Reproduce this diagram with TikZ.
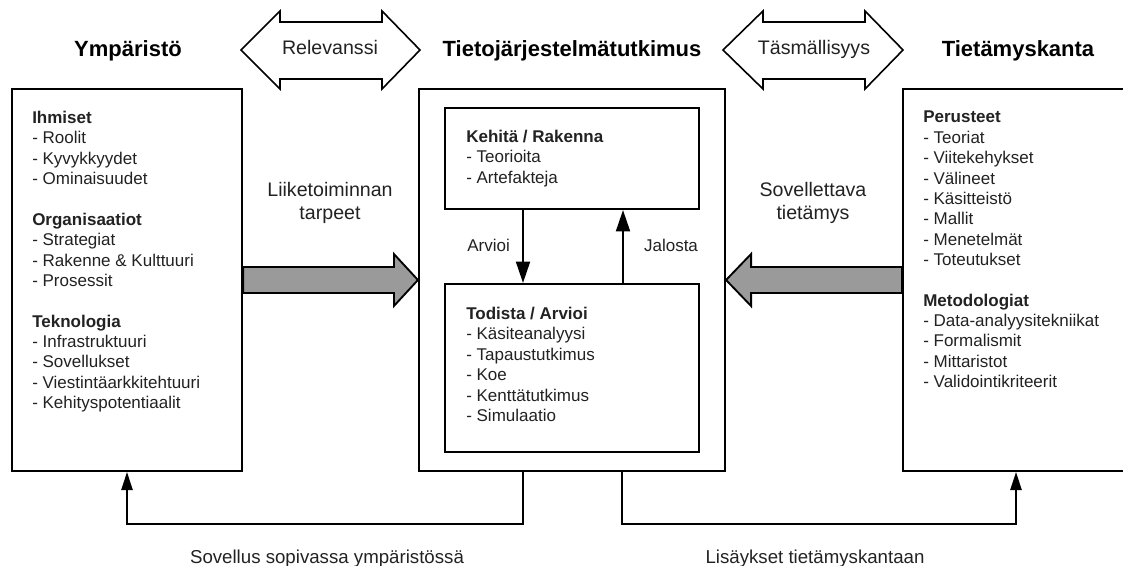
\documentclass[tikz,border=0pt]{standalone}
\usepackage{fontspec}
\setmainfont{Liberation Sans}
\usetikzlibrary{arrows.meta,calc}
\definecolor{txtcol}{HTML}{222222}
\definecolor{blockgray}{HTML}{9A9A9A}
\begin{document}
\begin{tikzpicture}[x=0.75pt,y=-0.75pt,
  box/.style={draw, line width=1.6pt, inner sep=0pt, fill=white},
  boxtext/.style={anchor=north west, inner sep=0pt, align=left, text=txtcol,
    font=\fontsize{12.75pt}{15.27pt}\selectfont},
  title/.style={anchor=base, inner sep=0pt, font=\bfseries\fontsize{16.5pt}{20pt}\selectfont},
  midlabel/.style={inner sep=0pt, align=center, text=txtcol,
    font=\fontsize{14.7pt}{17.25pt}\selectfont},
  smalllabel/.style={inner sep=0pt, text=txtcol, font=\fontsize{12.75pt}{15.27pt}\selectfont},
  botlabel/.style={anchor=base, inner sep=0pt, text=txtcol, font=\fontsize{14pt}{17pt}\selectfont},
  dblarrow/.style={draw, line width=1.2pt, fill=white, line join=miter},
  blockarrow/.style={draw, line width=1.4pt, fill=blockgray, line join=miter},
  conn/.style={line width=1.4pt, -{Triangle[length=16pt,width=10.5pt]}},
  bconn/.style={line width=1.2pt, -{Triangle[length=13.5pt,width=8.5pt]}}
]
\useasboundingbox (0,0) rectangle (1123,566);
\clip (0,0) rectangle (1123,566);

% titles
\node[title] (tY) at (128,57) {Ympäristö};
\node[title] (tT) at (572,57) {Tietojärjestelmätutkimus};
\node[title] (tK) at (1018,57) {Tietämyskanta};

% double arrows
\draw[dblarrow] (241,50) -- (280,11) -- (280,22) -- (382,22) -- (382,11) -- (420,50)
  -- (382,89) -- (382,79) -- (280,79) -- (280,89) -- cycle;
\node[midlabel, anchor=base] (rel) at (330,55) {Relevanssi};
\draw[dblarrow] (723,50) -- (763,11) -- (763,22) -- (865,22) -- (865,11) -- (903,50)
  -- (865,89) -- (865,79) -- (763,79) -- (763,89) -- cycle;
\node[midlabel, anchor=base] (tas) at (814,55) {Täsmällisyys};

% boxes
\node[box, minimum width=172.5pt, minimum height=286.5pt] (L) at (127,280) {};
\node[box, minimum width=229.5pt, minimum height=286.5pt] (C) at (572,280) {};
\node[box, minimum width=190.5pt, minimum height=75.75pt] (K) at (572,158.5) {};
\node[box, minimum width=190.5pt, minimum height=126pt] (T) at (572,368) {};
\node[box, minimum width=169.5pt, minimum height=286.5pt] (R) at (1016,280) {};

% box texts
\node[boxtext] (Ltxt) at (32,111) {\textbf{Ihmiset}\\- Roolit\\- Kyvykkyydet\\- Ominaisuudet\\[15.27pt]
\textbf{Organisaatiot}\\- Strategiat\\- Rakenne \& Kulttuuri\\- Prosessit\\[15.27pt]
\textbf{Teknologia}\\- Infrastruktuuri\\- Sovellukset\\- Viestintäarkkitehtuuri\\- Kehityspotentiaalit};
\node[boxtext] (Ktxt) at (466,130) {\textbf{Kehitä / Rakenna}\\- Teorioita\\- Artefakteja};
\node[boxtext] (Ttxt) at (466,307) {\textbf{Todista / Arvioi}\\- Käsiteanalyysi\\- Tapaustutkimus\\- Koe\\- Kenttätutkimus\\- Simulaatio};
\node[boxtext] (Rtxt) at (923,111) {\textbf{Perusteet}\\- Teoriat\\- Viitekehykset\\- Välineet\\- Käsitteistö\\- Mallit\\- Menetelmät\\- Toteutukset\\[15.27pt]
\textbf{Metodologiat}\\- Data-analyysitekniikat\\- Formalismit\\- Mittaristot\\- Validointikriteerit};

% middle labels
\node[midlabel, anchor=north] (lt) at (330,182) {Liiketoiminnan\\tarpeet};
\node[midlabel, anchor=north] (st) at (813,182) {Sovellettava\\tietämys};

% gray block arrows
\draw[blockarrow] ($(L.east)+(0,-13)$) -- ($(C.west)+(-24,-13)$) -- ($(C.west)+(-24,-26)$)
  -- (C.west) -- ($(C.west)+(-24,26)$) -- ($(C.west)+(-24,13)$) -- ($(L.east)+(0,13)$) -- cycle;
\draw[blockarrow] ($(R.west)+(0,-13)$) -- ($(C.east)+(25,-13)$) -- ($(C.east)+(25,-26)$)
  -- (C.east) -- ($(C.east)+(25,26)$) -- ($(C.east)+(25,13)$) -- ($(R.west)+(0,13)$) -- cycle;

% inner arrows
\draw[conn] ($(K.south)+(-49,0)$) -- ($(T.north)+(-49,0)$);
\draw[conn] ($(T.north)+(51,0)$) -- ($(K.south)+(51,0)$);
\node[smalllabel, anchor=base west] (arv) at (467,252) {Arvioi};
\node[smalllabel, anchor=base] (jal) at (671,252) {Jalosta};

% bottom connectors
\draw[bconn] ($(C.south)+(-49,0)$) -- ++(0,52) -| (L.south);
\draw[bconn] ($(C.south)+(50,0)$) -- ++(0,52) -| (R.south);
\node[botlabel] (bl) at (327,563) {Sovellus sopivassa ympäristössä};
\node[botlabel] (br) at (815,563) {Lisäykset tietämyskantaan};
\end{tikzpicture}
\end{document}
